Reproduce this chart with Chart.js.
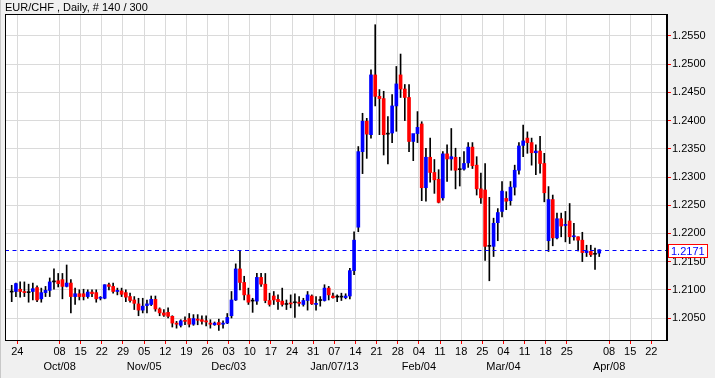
<!DOCTYPE html>
<html>
<head>
<meta charset="utf-8">
<script src="https://cdn.jsdelivr.net/npm/chart.js@4/dist/chart.umd.min.js"></script>
<style>
  html, body { margin: 0; padding: 0; background: #f0f0f0; }
  #wrap { width: 715px; height: 378px; }
</style>
</head>
<body>
<div id="wrap"><canvas id="myChart1" width="715" height="378"></canvas></div>
<script>
  // EUR/CHF daily candles, Sep 21 2012 .. Apr 04 2013 (trading day index 0..139)
  const opens = [
    1.2096, 1.2097, 1.2101, 1.2097, 1.2095, 1.2097, 1.2104, 1.2084, 1.2095, 1.2099,
    1.2114, 1.2116, 1.2118, 1.2106, 1.2112, 1.2088, 1.2093, 1.2093, 1.2088, 1.2096,
    1.2095, 1.2085, 1.2085, 1.2109, 1.2106, 1.2097, 1.2098, 1.2095, 1.2088, 1.2082,
    1.2075, 1.2064, 1.2072, 1.2074, 1.2083, 1.2066, 1.2059, 1.2060, 1.2053, 1.2041,
    1.2037, 1.2046, 1.2049, 1.2039, 1.2048, 1.2047, 1.2045, 1.2041, 1.2038, 1.2042,
    1.2039, 1.2041, 1.2054, 1.2082, 1.2137, 1.2113, 1.2091, 1.2080, 1.2080, 1.2122,
    1.2110, 1.2081, 1.2089, 1.2083, 1.2080, 1.2074, 1.2076, 1.2077, 1.2078, 1.2074,
    1.2081, 1.2089, 1.2074, 1.2081, 1.2081, 1.2103, 1.2089, 1.2087, 1.2087, 1.2086,
    1.2089, 1.2134, 1.2211, 1.2345, 1.2399, 1.2375, 1.2481, 1.2443, 1.2439, 1.2376,
    1.2378, 1.2426, 1.2481, 1.2456, 1.2441, 1.2363, 1.2377, 1.2394, 1.2281, 1.2335,
    1.2308, 1.2296, 1.2263, 1.2341, 1.2332, 1.2335, 1.2313, 1.2314, 1.2325, 1.2353,
    1.2321, 1.2279, 1.2277, 1.2177, 1.2177, 1.2219, 1.2239, 1.2262, 1.2258, 1.2282,
    1.2312, 1.2356, 1.2369, 1.2361, 1.2343, 1.2346, 1.2324, 1.2187, 1.2260, 1.2192,
    1.2226, 1.2214, 1.2222, 1.2194, 1.2194, 1.2188, 1.2166, 1.2168, 1.2163, 1.2165
  ];
  const highs = [
    1.2108, 1.2112, 1.2114, 1.2114, 1.2110, 1.2112, 1.2107, 1.2103, 1.2106, 1.2121,
    1.2137, 1.2129, 1.2129, 1.2144, 1.2118, 1.2103, 1.2100, 1.2101, 1.2100, 1.2100,
    1.2100, 1.2088, 1.2109, 1.2112, 1.2112, 1.2103, 1.2103, 1.2100, 1.2094, 1.2088,
    1.2085, 1.2085, 1.2082, 1.2089, 1.2089, 1.2068, 1.2065, 1.2068, 1.2054, 1.2044,
    1.2047, 1.2052, 1.2058, 1.2056, 1.2056, 1.2054, 1.2054, 1.2047, 1.2043, 1.2048,
    1.2045, 1.2058, 1.2097, 1.2146, 1.2169, 1.2124, 1.2103, 1.2085, 1.2129, 1.2129,
    1.2129, 1.2094, 1.2097, 1.2091, 1.2103, 1.2082, 1.2091, 1.2093, 1.2088, 1.2085,
    1.2097, 1.2091, 1.2088, 1.2088, 1.2109, 1.2106, 1.2094, 1.2091, 1.2094, 1.2093,
    1.2138, 1.2203, 1.2354, 1.2413, 1.2404, 1.2490, 1.2570, 1.2455, 1.2452, 1.2407,
    1.2446, 1.2496, 1.2518, 1.2464, 1.2464, 1.2372, 1.2416, 1.2398, 1.2351, 1.2369,
    1.2331, 1.2313, 1.2345, 1.2357, 1.2386, 1.2351, 1.2335, 1.2345, 1.2361, 1.2361,
    1.2336, 1.2307, 1.2324, 1.2264, 1.2227, 1.2244, 1.2292, 1.2274, 1.2292, 1.2321,
    1.2361, 1.2392, 1.2380, 1.2369, 1.2357, 1.2372, 1.2342, 1.2283, 1.2268, 1.2236,
    1.2236, 1.2239, 1.2253, 1.2218, 1.2194, 1.2202, 1.2179, 1.2179, 1.2174, 1.2171
  ];
  const lows = [
    1.2079, 1.2088, 1.2087, 1.2088, 1.2078, 1.2082, 1.2079, 1.2078, 1.2088, 1.2088,
    1.2101, 1.2105, 1.2084, 1.2105, 1.2059, 1.2074, 1.2082, 1.2082, 1.2085, 1.2088,
    1.2078, 1.2082, 1.2084, 1.2100, 1.2094, 1.2091, 1.2088, 1.2079, 1.2078, 1.2065,
    1.2054, 1.2059, 1.2059, 1.2072, 1.2062, 1.2054, 1.2053, 1.2050, 1.2034, 1.2032,
    1.2034, 1.2038, 1.2034, 1.2037, 1.2038, 1.2039, 1.2036, 1.2032, 1.2037, 1.2028,
    1.2032, 1.2040, 1.2050, 1.2081, 1.2100, 1.2082, 1.2074, 1.2060, 1.2074, 1.2106,
    1.2077, 1.2071, 1.2074, 1.2065, 1.2071, 1.2065, 1.2068, 1.2051, 1.2071, 1.2071,
    1.2064, 1.2074, 1.2064, 1.2071, 1.2080, 1.2082, 1.2085, 1.2079, 1.2081, 1.2084,
    1.2084, 1.2127, 1.2203, 1.2306, 1.2333, 1.2369, 1.2426, 1.2375, 1.2339, 1.2323,
    1.2361, 1.2381, 1.2441, 1.2400, 1.2345, 1.2329, 1.2361, 1.2258, 1.2257, 1.2291,
    1.2271, 1.2254, 1.2259, 1.2292, 1.2312, 1.2279, 1.2284, 1.2312, 1.2317, 1.2315,
    1.2268, 1.2253, 1.2152, 1.2116, 1.2159, 1.2187, 1.2229, 1.2242, 1.2250, 1.2268,
    1.2305, 1.2336, 1.2342, 1.2321, 1.2304, 1.2307, 1.2256, 1.2168, 1.2178, 1.2190,
    1.2194, 1.2185, 1.2182, 1.2188, 1.2169, 1.2150, 1.2159, 1.2159, 1.2136, 1.2159
  ];
  const closes = [
    1.2096, 1.2111, 1.2097, 1.2095, 1.2095, 1.2102, 1.2082, 1.2095, 1.2099, 1.2114,
    1.2114, 1.2111, 1.2106, 1.2112, 1.2088, 1.2093, 1.2088, 1.2088, 1.2096, 1.2093,
    1.2084, 1.2086, 1.2109, 1.2106, 1.2097, 1.2099, 1.2092, 1.2087, 1.2081, 1.2076,
    1.2064, 1.2071, 1.2075, 1.2083, 1.2066, 1.2059, 1.2055, 1.2053, 1.2041, 1.2039,
    1.2045, 1.2044, 1.2039, 1.2049, 1.2046, 1.2044, 1.2043, 1.2039, 1.2041, 1.2038,
    1.2041, 1.2051, 1.2082, 1.2137, 1.2113, 1.2091, 1.2078, 1.2080, 1.2122, 1.2110,
    1.2081, 1.2074, 1.2082, 1.2079, 1.2074, 1.2074, 1.2075, 1.2077, 1.2076, 1.2081,
    1.2091, 1.2075, 1.2076, 1.2081, 1.2103, 1.2091, 1.2086, 1.2087, 1.2087, 1.2089,
    1.2134, 1.2188, 1.2345, 1.2399, 1.2376, 1.2481, 1.2443, 1.2439, 1.2375, 1.2376,
    1.2426, 1.2465, 1.2456, 1.2441, 1.2363, 1.2377, 1.2388, 1.2281, 1.2335, 1.2308,
    1.2295, 1.2255, 1.2341, 1.2332, 1.2336, 1.2312, 1.2313, 1.2324, 1.2353, 1.2320,
    1.2279, 1.2263, 1.2177, 1.2177, 1.2218, 1.2237, 1.2275, 1.2257, 1.2282, 1.2312,
    1.2355, 1.2364, 1.2361, 1.2343, 1.2346, 1.2324, 1.2272, 1.2260, 1.2192, 1.2226,
    1.2213, 1.2216, 1.2194, 1.2195, 1.2188, 1.2166, 1.2169, 1.2162, 1.2163, 1.2171
  ];

  // Monday ticks (trading day index) with their labels
  const tickDays = [1, 11, 16, 21, 26, 31, 36, 41, 46, 51, 56, 61, 66, 71, 76,
                    81, 86, 91, 96, 101, 106, 111, 116, 121, 126, 131, 141, 146, 151];
  const tickLabels = ['24', '08', '15', '22', '29', '05', '12', '19', '26', '03', '10', '17', '24', '31', '07',
                      '14', '21', '28', '04', '11', '18', '25', '04', '11', '18', '25', '08', '15', '22'];
  const monthLabels = ['', 'Oct/08', '', '', '', 'Nov/05', '', '', '', 'Dec/03', '', '', '', '', 'Jan/07/13',
                       '', '', '', 'Feb/04', '', '', '', 'Mar/04', '', '', '', 'Apr/08', '', ''];
  const yTicks = [1.2050, 1.2100, 1.2150, 1.2200, 1.2250, 1.2300, 1.2350, 1.2400, 1.2450, 1.2500, 1.2550];

  const titleText = 'EUR/CHF , Daily, # 140 / 300';
  const FONT = '"Liberation Sans", Arial, sans-serif';

  const wicks = opens.map((o, i) => ({ x: i, y: [lows[i], highs[i]] }));
  const bodies = opens.map((o, i) => ({ x: i, y: [Math.min(o, closes[i]), Math.max(o, closes[i])] }));
  const bodyColors = opens.map((o, i) => closes[i] > o ? '#0000ff' : (closes[i] < o ? '#ff0000' : '#000000'));

  // backgrounds, frame, title and current price marker
  const decor = {
    id: 'decor',
    beforeDraw(chart) {
      const { ctx, chartArea: a } = chart;
      ctx.save();
      ctx.fillStyle = '#f0f0f0';
      ctx.fillRect(0, 0, chart.width, chart.height);
      ctx.fillStyle = '#c8c8c8';
      ctx.fillRect(0, 0, 1, chart.height);
      ctx.fillStyle = '#ffffff';
      ctx.fillRect(a.left, a.top, a.right - a.left, a.bottom - a.top);
      ctx.fillStyle = '#000000';
      ctx.font = '11px ' + FONT;
      ctx.textBaseline = 'alphabetic';
      ctx.fillText(titleText, 5, 11);
      ctx.restore();
    },
    afterDatasetsDraw(chart) {
      const { ctx, chartArea: a, scales } = chart;
      const last = closes[closes.length - 1];
      const y = Math.round(scales.y.getPixelForValue(last)) + 0.5;
      ctx.save();
      ctx.strokeStyle = '#0000ff';
      ctx.lineWidth = 1;
      ctx.setLineDash([4, 3.5]);
      ctx.beginPath();
      ctx.moveTo(a.left, y);
      ctx.lineTo(a.right, y);
      ctx.stroke();
      ctx.setLineDash([]);
      ctx.strokeStyle = '#000000';
      ctx.strokeRect(a.left + 0.5, a.top + 0.5, a.right - a.left - 1, a.bottom - a.top);
      // price box
      ctx.fillStyle = '#ffffff';
      ctx.fillRect(668, y - 6.5, 39, 13);
      ctx.strokeStyle = '#ff0000';
      ctx.strokeRect(668.5, y - 6, 39, 13);
      ctx.fillStyle = '#0000ff';
      ctx.font = '11px ' + FONT;
      ctx.textBaseline = 'middle';
      ctx.fillText(last.toFixed(4), 671, y + 1);
      ctx.restore();
    }
  };

  const config1 = {
    type: 'bar',
    data: {
      datasets: [
        {
          label: 'Body',
          data: bodies,
          backgroundColor: bodyColors,
          barThickness: 3,
          minBarLength: 1,
          grouped: false,
          order: 1
        },
        {
          label: 'Wick',
          data: wicks,
          backgroundColor: '#000000',
          barThickness: 1,
          grouped: false,
          order: 2
        }
      ]
    },
    options: {
      responsive: false,
      animation: false,
      layout: { padding: { top: 14, left: 5, right: 0, bottom: 0 } },
      plugins: {
        legend: { display: false },
        title: { display: false },
        tooltip: { enabled: false }
      },
      scales: {
        x: {
          type: 'linear',
          offset: false,
          min: -1.585,
          max: 155.03,
          afterBuildTicks: (s) => { s.ticks = tickDays.map(d => ({ value: d + 0.33 })); },
          afterFit: (s) => { s.height = 38; },
          grid: { offset: false, color: '#dadada', tickColor: '#ff0000', tickLength: 4 },
          border: { display: true, color: '#000000' },
          ticks: {
            autoSkip: false,
            maxRotation: 0,
            padding: 0,
            color: '#000000',
            font: { family: FONT, size: 11, lineHeight: '15px' },
            callback: (v, i) => monthLabels[i] ? [tickLabels[i], monthLabels[i]] : tickLabels[i]
          }
        },
        y: {
          position: 'right',
          min: 1.2011,
          max: 1.2589,
          afterBuildTicks: (s) => { s.ticks = yTicks.map(v => ({ value: v })); },
          afterFit: (s) => { s.width = 48; },
          grid: { color: '#dadada', tickColor: '#ff0000', tickLength: 4 },
          border: { display: true, color: '#000000' },
          ticks: {
            padding: 1,
            color: '#000000',
            font: { family: FONT, size: 11 },
            callback: (v) => v.toFixed(4)
          }
        }
      }
    },
    plugins: [decor]
  };

  const ctx = document.getElementById('myChart1').getContext('2d');
  const myChart1 = new Chart(ctx, config1);
</script>
</body>
</html>
